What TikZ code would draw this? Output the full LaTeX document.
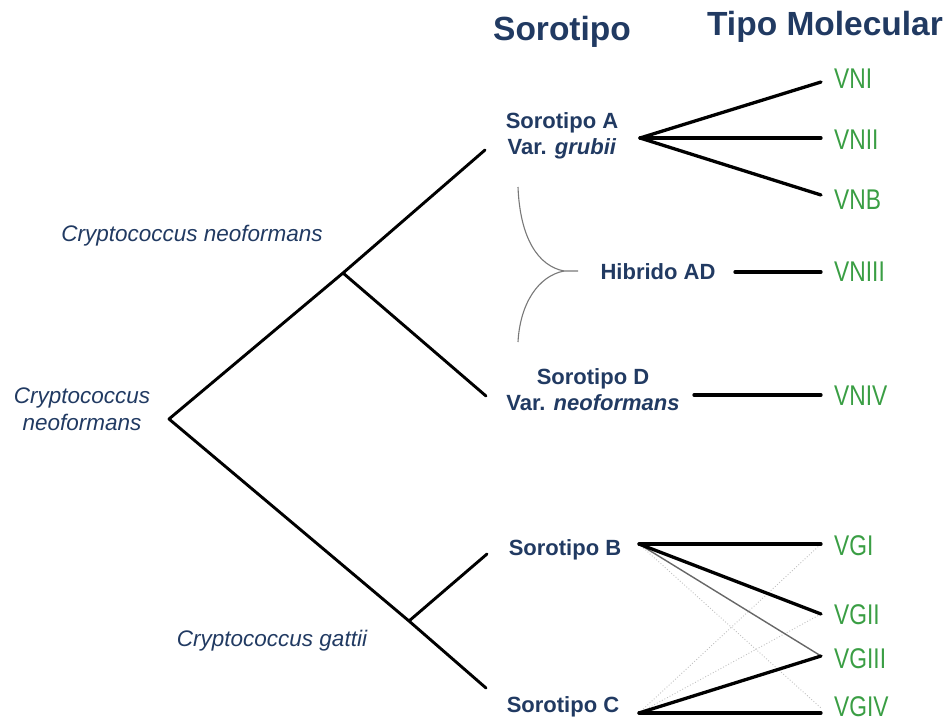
\documentclass[tikz,border=0pt]{standalone}
\usepackage{fontspec}
\setmainfont{Liberation Sans}
\newfontfamily\narrowfont[FakeStretch=0.8]{Liberation Sans}
\definecolor{dblue}{RGB}{33,58,98}
\definecolor{vgreen}{RGB}{58,158,68}
\definecolor{bracegray}{RGB}{120,120,120}
\begin{document}
\begin{tikzpicture}[x=1pt,y=-1pt,
  heading/.style={font=\fontsize{33.5}{36}\selectfont\bfseries, text=dblue, inner sep=0pt},
  sero/.style={font=\fontsize{22}{26}\selectfont\bfseries, text=dblue, align=center, inner sep=0pt},
  species/.style={font=\fontsize{22.5}{27}\selectfont\itshape, text=dblue, align=center, inner sep=0pt},
  mol/.style={font=\narrowfont\fontsize{28.5}{30}\selectfont, text=vgreen, anchor=west, inner sep=0pt},
  tree/.style={line width=2.9pt, line cap=round, line join=round},
  link/.style={line width=3.3pt, line cap=round},
  weak/.style={line width=1.4pt, color=black!60},
  faint/.style={line width=0.9pt, color=black!25, dotted},
  brace/.style={line width=1.1pt, color=bracegray}
]
\useasboundingbox (0,0) rectangle (949,722);

% headings
\node[heading] (hsero) at (562,32) {Sorotipo};
\node[heading] (hmol) at (825,27) {Tipo Molecular};

% species labels
\node[species] (cnA) at (192,236) {Cryptococcus neoformans};
\node[species] (cnroot) at (82,409) {Cryptococcus\\neoformans};
\node[species] (cg) at (272,641) {Cryptococcus gattii};

% serotype labels
\node[sero] (sA) at (562,136) {Sorotipo A\\Var. \textit{grubii}};
\node[sero] (hAD) at (658,272) {Hibrido AD};
\node[sero] (sD) at (593,390) {Sorotipo D\\Var. \textit{neoformans}};
\node[sero] (sB) at (565,550) {Sorotipo B};
\node[sero] (sC) at (563,707) {Sorotipo C};

% molecular types
\node[mol] (vni) at (834,79) {VNI};
\node[mol] (vnii) at (834,140) {VNII};
\node[mol] (vnb) at (834,200) {VNB};
\node[mol] (vniii) at (834,272) {VNIII};
\node[mol] (vniv) at (834,396) {VNIV};
\node[mol] (vgi) at (834,546) {VGI};
\node[mol] (vgii) at (834,615) {VGII};
\node[mol] (vgiii) at (834,659) {VGIII};
\node[mol] (vgiv) at (834,707) {VGIV};

% tree coordinates
\coordinate (root) at (169,419);
\coordinate (nup) at (343,273);
\coordinate (nlow) at (409,621);
\coordinate (endA) at (485,150);
\coordinate (endD) at (486,396);
\coordinate (endB) at (487,554);
\coordinate (endC) at (486,688);

\draw[tree] (endA) -- (nup) -- (root) -- (nlow) -- (endC);
\draw[tree] (nup) -- (endD);
\draw[tree] (nlow) -- (endB);

% connector end points
\coordinate (apA) at (640,138);
\coordinate (eVNI) at (821,82);
\coordinate (eVNII) at (821,138);
\coordinate (eVNB) at (821,195);
\coordinate (sVNIII) at (735,272);
\coordinate (eVNIII) at (821,272);
\coordinate (sVNIV) at (694,395);
\coordinate (eVNIV) at (821,395);
\coordinate (apB) at (639,544);
\coordinate (apC) at (639,713);
\coordinate (eVGI) at (821,544);
\coordinate (eVGII) at (821,614);
\coordinate (eVGIII) at (821,656);
\coordinate (eVGIV) at (821,713);
\coordinate (eVGIVb) at (821,708);

% serotype A
\draw[link] (apA) -- (eVNI);
\draw[link] (apA) -- (eVNII);
\draw[link] (apA) -- (eVNB);
% hybrid / D
\draw[link] (sVNIII) -- (eVNIII);
\draw[link] (sVNIV) -- (eVNIV);

% gattii faint links
\draw[faint] (apB) -- (eVGIVb);
\draw[faint] (apC) -- (eVGI);
\draw[faint] (apC) -- (eVGII);
\draw[weak] (apB) -- (eVGIII);
% gattii strong links
\draw[link] (apB) -- (eVGI);
\draw[link] (apB) -- (eVGII);
\draw[link] (apC) -- (eVGIII);
\draw[link] (apC) -- (eVGIV);

% brace for hybrid
\coordinate (brTop) at (518,187);
\coordinate (brBot) at (518,342);
\coordinate (brTip) at (564,271);
\coordinate (brEnd) at (578,271);
\draw[brace] (brTop) .. controls (520,238) and (538,266) .. (brTip) -- (brEnd);
\draw[brace] (brBot) .. controls (520,304) and (538,276) .. (brTip);
\end{tikzpicture}
\end{document}
